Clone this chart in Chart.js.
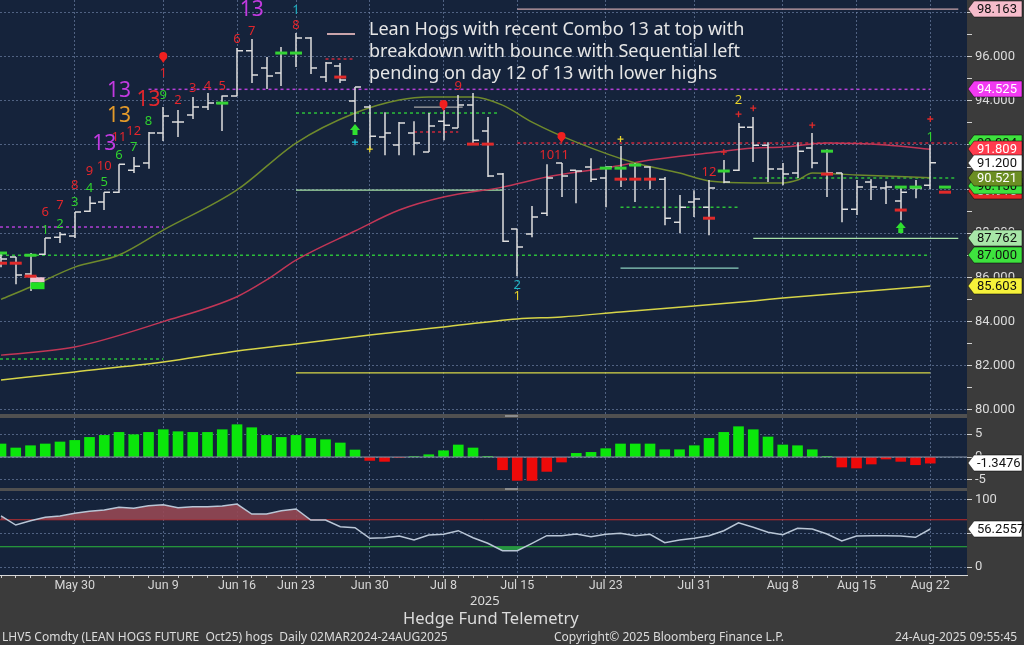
<!DOCTYPE html>
<html>
<head>
<meta charset="utf-8">
<title>LHV5 Comdty - Lean Hogs</title>
<script src="https://cdn.jsdelivr.net/npm/chart.js@4.4.1/dist/chart.umd.min.js"></script>
<style>
  body { margin: 0; width: 1024px; height: 645px; background: #3b3b3b; position: relative; overflow: hidden; font-family: "Noto Sans", sans-serif; }
  canvas { position: absolute; left: 0; }
  .sep { position: absolute; left: 0; width: 967px; background: #505050; }
  .grip { position: absolute; left: 505px; width: 13px; height: 2px; background: #8c8c8c; }
  .txt { position: absolute; white-space: pre; color: #dcdcdc; }
</style>
</head>
<body>
<canvas id="priceChart" width="1024" height="414" style="top:0"></canvas>
<div class="sep" style="top:414px;height:4px"></div>
<div class="grip" style="top:415px"></div>
<canvas id="histChart" width="1024" height="70" style="top:418px"></canvas>
<div class="sep" style="top:488px;height:3px"></div>
<div class="grip" style="top:488px"></div>
<canvas id="oscChart" width="1024" height="110" style="top:491px"></canvas>

<div style="position:absolute;left:327px;top:33px;width:28px;height:2px;background:#c9a4ab"></div>
<div class="txt" style="left:369px;top:17px;font-size:18px;line-height:22px;color:#e6e6e6">Lean Hogs with recent Combo 13 at top with
breakdown with bounce with Sequential left
pending on day 12 of 13 with lower highs</div>
<div class="txt" style="left:470px;top:591px;font-size:13px">2025</div>
<div class="txt" style="left:403px;top:606px;font-size:16.5px">Hedge Fund Telemetry</div>
<div class="txt" style="left:2px;top:628px;font-size:12px">LHV5 Comdty (LEAN HOGS FUTURE  Oct25) hogs  Daily 02MAR2024-24AUG2025</div>
<div class="txt" style="left:554px;top:628px;font-size:12px">Copyright© 2025 Bloomberg Finance L.P.</div>
<div class="txt" style="left:895px;top:628px;font-size:12px">24-Aug-2025 09:55:45</div>

<script>
// trading days shown (index = position on the x axis)
const dates = ["05-22","05-23","05-27","05-28","05-29","05-30","06-02","06-03","06-04","06-05","06-06",
  "06-09","06-10","06-11","06-12","06-13","06-16","06-17","06-18","06-20","06-23","06-24","06-25","06-26",
  "06-27","06-30","07-01","07-02","07-03","07-07","07-08","07-09","07-10","07-11","07-14","07-15","07-16",
  "07-17","07-18","07-21","07-22","07-23","07-24","07-25","07-28","07-29","07-30","07-31","08-01","08-04",
  "08-05","08-06","08-07","08-08","08-11","08-12","08-13","08-14","08-15","08-18","08-19","08-20","08-21","08-22"];
const tickDates = ["05-30","06-09","06-16","06-23","06-30","07-08","07-15","07-23","07-31","08-08","08-15","08-22"];
const tickLabels = ["May 30","Jun 9","Jun 16","Jun 23","Jun 30","Jul 8","Jul 15","Jul 23","Jul 31","Aug 8","Aug 15","Aug 22"];

// daily bars
const open = [86.90,86.92,86.15,87.05,87.82,87.87,89.00,89.41,89.86,90.86,91.18,92.54,93.04,93.36,93.72,93.90,
  94.22,96.27,95.49,95.27,96.17,96.85,95.08,95.58,93.99,93.72,92.36,92.00,92.54,91.68,93.08,92.77,93.81,92.63,
  90.68,88.19,87.96,88.91,91.18,90.86,91.00,90.50,90.95,91.09,91.00,90.45,88.50,89.41,89.18,90.82,90.86,92.81,
  91.99,90.91,90.73,91.86,91.72,90.73,89.09,90.32,90.05,89.46,90.05,90.18];
const high = [87.14,86.92,87.10,87.78,88.05,88.96,89.68,89.86,91.13,91.46,92.59,93.72,93.59,94.18,94.36,94.25,
  96.40,96.81,95.99,96.44,97.08,96.90,95.76,95.72,94.63,93.81,93.49,93.04,93.08,93.45,93.59,94.27,94.36,93.27,
  90.73,88.19,89.23,91.13,91.18,90.86,91.40,91.04,91.95,91.18,91.04,90.55,89.73,89.95,90.41,91.32,93.00,93.27,
  92.13,91.18,92.13,92.54,91.81,90.73,90.41,90.45,90.36,90.09,90.41,92.00];
const low = [86.46,85.69,85.38,87.01,87.55,87.78,88.96,89.05,89.82,90.73,90.92,92.18,92.36,93.18,93.59,92.63,
  94.22,94.81,94.54,94.68,95.54,95.22,94.86,94.81,93.04,91.77,91.54,91.54,91.54,91.68,92.22,92.77,92.09,90.55,
  87.60,86.05,87.82,88.78,89.64,89.36,90.32,89.18,90.09,89.41,90.00,88.36,88.00,88.73,87.91,90.27,90.82,91.23,
  90.32,90.18,90.50,90.95,89.64,88.50,88.82,89.50,89.32,88.59,89.59,90.00];
const close = [86.83,86.10,86.00,87.78,87.94,88.96,89.36,89.86,91.13,91.04,92.54,93.31,93.04,93.72,93.90,94.22,
  96.27,95.17,95.13,96.17,96.85,95.49,95.72,94.95,94.63,92.40,92.54,93.00,92.09,92.86,92.90,93.81,92.22,90.59,
  87.64,87.37,88.73,90.50,90.59,90.82,90.45,91.00,90.45,90.45,90.45,88.68,89.18,89.55,90.05,90.32,92.81,91.99,
  90.91,90.68,91.72,91.18,90.73,89.09,90.09,90.09,90.09,89.86,90.05,91.20];

// moving averages, read at these bar positions
const maFastIdx = [0,2,5,8,11,16,20,24,27,29,32,34,36,39,43,46,48,51,53,54,55,58,63];
const maFast = [85.00,85.56,86.46,87.01,88.14,89.96,92.09,93.45,94.04,94.18,94.18,93.81,93.04,92.13,91.18,
  90.73,90.37,90.28,90.28,90.41,90.73,90.64,90.52];
const maMidIdx = [0,5,11,16,18,20,24,27,30,34,37,41,44,48,51,53,56,60,63];
const maMid = [82.47,82.84,83.99,85.12,85.88,86.78,88.10,89.05,89.64,90.09,90.55,90.96,91.32,91.64,91.86,
  91.91,92.09,92.00,91.81];
const maSlowIdx = [0,5,11,16,20,25,30,35,38,42,47,51,53,58,63];
const maSlow = [81.34,81.71,82.16,82.66,82.98,83.38,83.75,84.11,84.20,84.43,84.70,84.93,85.06,85.33,85.60];

// horizontal levels (from bar, to bar, price)
const levelFrom = [10, -0.07, 22, 20, 28, 35, 42, 51, -0.07, -0.07, 20, 42, 51, 35, 28, 20];
const levelTo = [63, 11, 24, 33.8, 31, 64.8, 50, 64.8, 63, 11, 34, 50, 64.9, 64.9, 31.3, 63];
const levelValue = [94.525, 88.28, 95.90, 93.45, 92.59, 92.09, 89.18, 90.50, 87.00, 82.29, 89.95, 86.42, 87.762, 98.163, 93.72, 81.666];
const levelKind = ["mag", "mag", "red", "grn", "red", "red", "grn", "grn", "grn", "grn", "lgrn", "teal", "lgrn", "pink", "gray", "yel"];

// TD counts
const tdIdx = [3,4,3,4,5,5,6,6,7,7,8,8,7,9,9,8,8,10,10,11,12,11,13,14,15,16,17,17,20,20,31,37,38,35,35,50,48,63];
const tdPrice = [88.96,89.27,88.14,88.41,89.41,90.18,90.05,90.82,90.32,91.05,91.54,92.36,92.04,91.90,92.63,93.31,
  94.45,93.09,94.04,94.27,94.04,95.27,94.58,94.67,94.67,96.81,97.17,98.12,97.44,98.12,94.67,91.54,91.54,85.65,
  85.15,94.04,90.77,92.36];
const tdText = ["6","7","1","2","3","8","4","9","5","10","6","11","13","7","12","13","13","8","13","9","2","1","3",
  "4","5","6","7","13","8","1","9","10","11","2","1","2","12","1"];
const tdKind = ["r","r","g","g","g","r","g","r","g","r","g","r","m","g","r","o","m","g","r","g","r","r","r","r","r",
  "r","r","m","r","t","r","r","r","t","y","y","r","g"];

// signal marks
const markIdx = [11, 24, 24, 25, 30, 38, 42, 50, 51, 49, 55, 63, 61];
const markPrice = [95.99, 92.68, 92.13, 91.81, 93.81, 92.36, 92.27, 93.40, 93.67, 91.68, 92.90, 93.18, 88.23];
const markKind = ["down", "up", "plusC", "plusY", "down", "down", "plusY", "plusR", "plusR", "plusR", "plusR", "plusR", "up"];
const greenDashIdx = [0, 2, 15, 19, 20, 41, 42, 43, 49, 56, 61, 62, 64];
const greenDashPrice = [87.10, 87.00, 93.90, 96.17, 96.17, 90.95, 90.95, 91.09, 90.82, 91.72, 90.09, 90.09, 90.09];
const redDashIdx = [0, 1, 2, 23, 32, 33, 42, 43, 44, 48, 56, 61, 64];
const redDashPrice = [86.64, 86.64, 86.05, 95.08, 92.04, 92.04, 90.45, 90.45, 90.45, 88.68, 90.68, 89.05, 89.86];

// lower panels
const hist = [2.86,1.98,2.48,2.86,3.30,3.65,4.31,4.75,5.41,4.90,5.41,6.00,5.56,5.41,5.41,6.00,7.10,6.44,4.75,4.31,
  4.75,4.09,3.80,3.08,1.54,-0.75,-0.96,-0.10,0.10,0.50,1.38,2.64,1.98,0.05,-2.80,-5.14,-5.14,-3.16,-1.10,0.80,
  1.02,1.83,2.86,2.86,2.86,1.60,1.60,2.48,4.09,5.41,6.66,6.00,4.40,2.64,2.48,1.60,0.05,-2.20,-2.42,-1.54,-0.44,
  -0.96,-1.70,-1.35];
const rsi = [75.6,62.2,68.6,73.6,75.6,79.6,82.5,84.4,88.4,87.0,90.8,92.3,87.9,89.3,89.3,90.4,93.3,78.5,78.5,83.4,
  85.9,69.6,69.6,59.7,58.2,42.5,43.4,45.9,40.0,47.4,48.4,53.8,43.4,35.1,24.1,24.1,35.1,46.4,46.4,48.9,44.9,48.4,
  49.9,46.4,48.4,36.0,40.0,42.5,46.4,53.8,65.6,58.8,51.4,47.9,57.3,56.3,48.9,38.5,45.9,46.4,46.4,45.9,44.0,56.3];

const FONT = '"Noto Sans", sans-serif';
const AXFONT = 'Roboto';
const GRID = 'rgba(120,140,178,0.6)';
const X_MIN = -0.068, X_MAX = 65.49;
const tdColors = { r: '#e2262c', g: '#2fd12f', m: '#c23ae0', o: '#e39a2a', t: '#1fb3c4', y: '#e6d02a' };
const levelStyle = {
  mag: ['#b23fd6', [3, 3]], red: ['#c8283a', [3, 3]], grn: ['#2cbf3a', [3, 3]],
  lgrn: ['#a6e0a6', []], teal: ['#8cd0bf', []], pink: ['#c9a4ab', []], gray: ['#a8a8a8', []], yel: ['#d8d848', []]
};

const labelAt = {};
tickDates.forEach((d, k) => { labelAt[dates.indexOf(d)] = tickLabels[k]; });
const isLabeled = v => labelAt[v] !== undefined;

function xAxis(bottom) {
  return {
    type: 'linear', min: X_MIN, max: X_MAX, offset: false,
    afterBuildTicks: s => {
      const vals = bottom ? Array.from({ length: 65 }, (_, i) => i) : Object.keys(labelAt).map(Number);
      s.ticks = vals.map(v => ({ value: v }));
    },
    ticks: { display: bottom, autoSkip: false, maxRotation: 0, padding: 0,
      callback: v => labelAt[v] || '', color: '#d6d6d6', font: { size: 12.5, family: AXFONT } },
    grid: { offset: false, color: c => (c.tick && isLabeled(c.tick.value)) ? GRID : 'transparent',
      drawTicks: bottom, tickLength: 3, tickColor: '#cfcfcf', lineWidth: 1 },
    border: { display: bottom, color: '#d8d8d8', width: 1, dash: [2, 2] },
    afterFit: s => { s.paddingLeft = 0; s.paddingRight = 0; if (bottom) s.height = 26; }
  };
}

function yAxis(min, max, step, fmt, gridFn) {
  return {
    position: 'right', min: min, max: max,
    ticks: { stepSize: step, includeBounds: false, callback: fmt, padding: 3,
      color: '#dcdcdc', font: { size: 13, family: AXFONT } },
    grid: { color: gridFn, tickLength: 5, tickColor: '#d0d0d0' },
    border: { display: false, dash: [2, 2] },
    afterFit: s => { s.width = 57; s.paddingTop = 0; s.paddingBottom = 0; }
  };
}

const panelBg = {
  id: 'panelBg',
  beforeDraw(chart) {
    const { ctx, chartArea: a } = chart;
    ctx.save();
    ctx.fillStyle = '#15233b';
    ctx.fillRect(a.left, a.top, a.right - a.left, a.bottom - a.top);
    ctx.restore();
  }
};

// value tags on the right axis
function tagPlugin(tags) {
  return {
    id: 'tags',
    afterDraw(chart) {
      const { ctx, chartArea: a, scales: { y } } = chart;
      ctx.save();
      ctx.font = '13px ' + AXFONT;
      ctx.textBaseline = 'middle';
      tags.forEach(t => {
        const py = Math.round(y.getPixelForValue(t.v));
        const x0 = a.right + 1;
        ctx.beginPath();
        ctx.moveTo(x0, py);
        ctx.lineTo(x0 + 6, py - 8);
        ctx.lineTo(1022, py - 8);
        ctx.lineTo(1022, py + 8);
        ctx.lineTo(x0 + 6, py + 8);
        ctx.closePath();
        ctx.fillStyle = t.bg;
        ctx.fill();
        ctx.strokeStyle = 'rgba(0,0,0,0.5)';
        ctx.lineWidth = 1;
        ctx.stroke();
        ctx.fillStyle = t.fg;
        ctx.fillText(t.text, x0 + 9, py + 1);
      });
      ctx.restore();
    }
  };
}

const ohlcPlugin = {
  id: 'ohlc',
  afterDatasetsDraw(chart) {
    const { ctx, chartArea: a, scales: { x, y } } = chart;
    ctx.save();
    ctx.beginPath();
    ctx.rect(a.left, a.top, a.right - a.left, a.bottom - a.top);
    ctx.clip();
    ctx.strokeStyle = '#dedede';
    ctx.lineWidth = 1.5;
    for (let i = 0; i < open.length; i++) {
      const cx = Math.round(x.getPixelForValue(i));
      ctx.beginPath();
      ctx.moveTo(cx, y.getPixelForValue(high[i]));
      ctx.lineTo(cx, y.getPixelForValue(low[i]));
      const yo = y.getPixelForValue(open[i]), yc = y.getPixelForValue(close[i]);
      ctx.moveTo(cx - 6, yo); ctx.lineTo(cx, yo);
      ctx.moveTo(cx, yc); ctx.lineTo(cx + 6, yc);
      ctx.stroke();
    }
    ctx.restore();
  }
};

const tdPlugin = {
  id: 'td',
  afterDatasetsDraw(chart) {
    const { ctx, chartArea: a, scales: { x, y } } = chart;
    ctx.save();
    ctx.beginPath();
    ctx.rect(a.left, a.top, a.right - a.left, a.bottom - a.top);
    ctx.clip();

    // flag at the low of the first leg
    const fx0 = x.getPixelForValue(2), fx1 = x.getPixelForValue(2.95);
    ctx.fillStyle = '#f2c4d2';
    ctx.fillRect(fx0, y.getPixelForValue(86.0), fx1 - fx0, y.getPixelForValue(85.77) - y.getPixelForValue(86.0));
    ctx.fillStyle = '#22e022';
    ctx.fillRect(fx0, y.getPixelForValue(85.77), fx1 - fx0, y.getPixelForValue(85.46) - y.getPixelForValue(85.77));

    // short dashes
    ctx.lineWidth = 3;
    const dash = (idx, price, col) => idx.forEach((i, k) => {
      const cx = x.getPixelForValue(i), py = y.getPixelForValue(price[k]);
      ctx.strokeStyle = col;
      ctx.beginPath(); ctx.moveTo(cx - 6, py); ctx.lineTo(cx + 6, py); ctx.stroke();
    });
    dash(greenDashIdx, greenDashPrice, '#35d335');
    dash(redDashIdx, redDashPrice, '#e02a2a');

    // numbers
    ctx.textAlign = 'center';
    ctx.textBaseline = 'middle';
    tdIdx.forEach((i, k) => {
      const big = tdText[k] === '13';
      ctx.font = (big ? '21px ' : '13px ') + FONT;
      ctx.fillStyle = tdColors[tdKind[k]];
      ctx.fillText(tdText[k], x.getPixelForValue(i), y.getPixelForValue(tdPrice[k]));
    });

    // arrows and crosses
    markIdx.forEach((i, k) => {
      const cx = x.getPixelForValue(i), py = y.getPixelForValue(markPrice[k]);
      const kind = markKind[k];
      if (kind === 'down') {
        ctx.fillStyle = '#f02020';
        ctx.beginPath(); ctx.arc(cx, py - 1, 4, 0, Math.PI * 2); ctx.fill();
        ctx.beginPath(); ctx.moveTo(cx - 4, py); ctx.lineTo(cx + 4, py); ctx.lineTo(cx, py + 6); ctx.fill();
      } else if (kind === 'up') {
        ctx.fillStyle = '#30e030';
        ctx.beginPath(); ctx.moveTo(cx, py - 6); ctx.lineTo(cx + 5, py); ctx.lineTo(cx - 5, py); ctx.fill();
        ctx.fillRect(cx - 2.5, py, 5, 5);
      } else {
        const col = { plusC: '#22c8e0', plusY: '#e8d430', plusR: '#e02a2a' }[kind];
        ctx.strokeStyle = col; ctx.lineWidth = 1.3;
        ctx.beginPath();
        ctx.moveTo(cx - 3, py); ctx.lineTo(cx + 3, py);
        ctx.moveTo(cx, py - 3); ctx.lineTo(cx, py + 3);
        ctx.stroke();
      }
    });
    ctx.restore();
  }
};

const pts = (idx, vals) => idx.map((i, k) => ({ x: i, y: vals[k] }));
const maLine = (idx, vals, col) => ({
  data: pts(idx, vals), borderColor: col, borderWidth: 1.5, pointRadius: 0,
  cubicInterpolationMode: 'monotone'
});
const levelSets = levelValue.map((v, k) => ({
  data: [{ x: levelFrom[k], y: v }, { x: levelTo[k], y: v }],
  borderColor: levelStyle[levelKind[k]][0], borderDash: levelStyle[levelKind[k]][1],
  borderWidth: levelStyle[levelKind[k]][1].length ? 1.5 : 1.3, pointRadius: 0
}));

const common = {
  responsive: false, maintainAspectRatio: false, animation: false,
  layout: { padding: 0 },
  plugins: { legend: { display: false }, tooltip: { enabled: false } }
};

new Chart(document.getElementById('priceChart'), {
  type: 'line',
  data: { datasets: [
    maLine(maFastIdx, maFast, '#6f8a2c'),
    maLine(maMidIdx, maMid, '#c23656'),
    maLine(maSlowIdx, maSlow, '#d6d448'),
    ...levelSets
  ] },
  options: { ...common,
    scales: {
      x: xAxis(false),
      y: yAxis(79.8, 98.576, 1, v => (v % 2 === 0 ? v.toFixed(3) : ''),
        c => (c.tick && c.tick.value % 2 === 0) ? GRID : 'transparent')
    }
  },
  plugins: [panelBg, ohlcPlugin, tdPlugin, tagPlugin([
    { v: 98.163, text: '98.163', bg: '#f6bccb', fg: '#111' },
    { v: 94.525, text: '94.525', bg: '#f23af2', fg: '#fff' },
    { v: 92.084, text: '92.084', bg: '#3ee23e', fg: '#111' },
    { v: 89.91, text: '89.910', bg: '#e82828', fg: '#fff' },
    { v: 90.150, text: '90.150', bg: '#3ee23e', fg: '#111' },
    { v: 91.809, text: '91.809', bg: '#ff3c4e', fg: '#fff' },
    { v: 90.521, text: '90.521', bg: '#6b8e23', fg: '#fff' },
    { v: 91.200, text: '91.200', bg: '#ffffff', fg: '#111' },
    { v: 87.762, text: '87.762', bg: '#a8e6a8', fg: '#111' },
    { v: 87.000, text: '87.000', bg: '#3ee23e', fg: '#111' },
    { v: 85.603, text: '85.603', bg: '#f6f23a', fg: '#111' }
  ])]
});

new Chart(document.getElementById('histChart'), {
  type: 'bar',
  data: { datasets: [
    { type: 'line', data: [{ x: X_MIN, y: 0 }, { x: X_MAX, y: 0 }], borderColor: '#8a97a8', borderWidth: 1, pointRadius: 0 },
    { data: hist.map((v, i) => ({ x: i, y: v })), barThickness: 10,
      backgroundColor: hist.map(v => (v >= 0 ? '#0be60b' : '#ee0a0a')) }
  ] },
  options: { ...common,
    scales: {
      x: xAxis(false),
      y: yAxis(-6.81, 8.57, 5, v => String(v), () => GRID)
    }
  },
  plugins: [panelBg, tagPlugin([{ v: -1.35, text: '-1.3476', bg: '#ffffff', fg: '#111' }])]
});

new Chart(document.getElementById('oscChart'), {
  type: 'line',
  data: { datasets: [
    { data: rsi.map((v, i) => ({ x: i, y: v })), borderColor: '#b9c6d6', borderWidth: 1.5, pointRadius: 0,
      fill: { target: { value: 70 }, above: 'rgba(150,72,84,0.9)', below: 'rgba(0,0,0,0)' } },
    { data: rsi.map((v, i) => ({ x: i, y: v })), borderWidth: 0, pointRadius: 0,
      fill: { target: { value: 30 }, above: 'rgba(0,0,0,0)', below: 'rgba(40,160,70,0.9)' } },
    { data: [{ x: X_MIN, y: 70 }, { x: X_MAX, y: 70 }], borderColor: '#c42828', borderWidth: 1, pointRadius: 0 },
    { data: [{ x: X_MIN, y: 30 }, { x: X_MAX, y: 30 }], borderColor: '#2cb83a', borderWidth: 1, pointRadius: 0 }
  ] },
  options: { ...common,
    scales: {
      x: xAxis(true),
      y: yAxis(-11.85, 112.6, 50, v => String(v), () => GRID)
    }
  },
  plugins: [panelBg, tagPlugin([{ v: 56.2557, text: '56.2557', bg: '#ffffff', fg: '#111' }])]
});
</script>
</body>
</html>
